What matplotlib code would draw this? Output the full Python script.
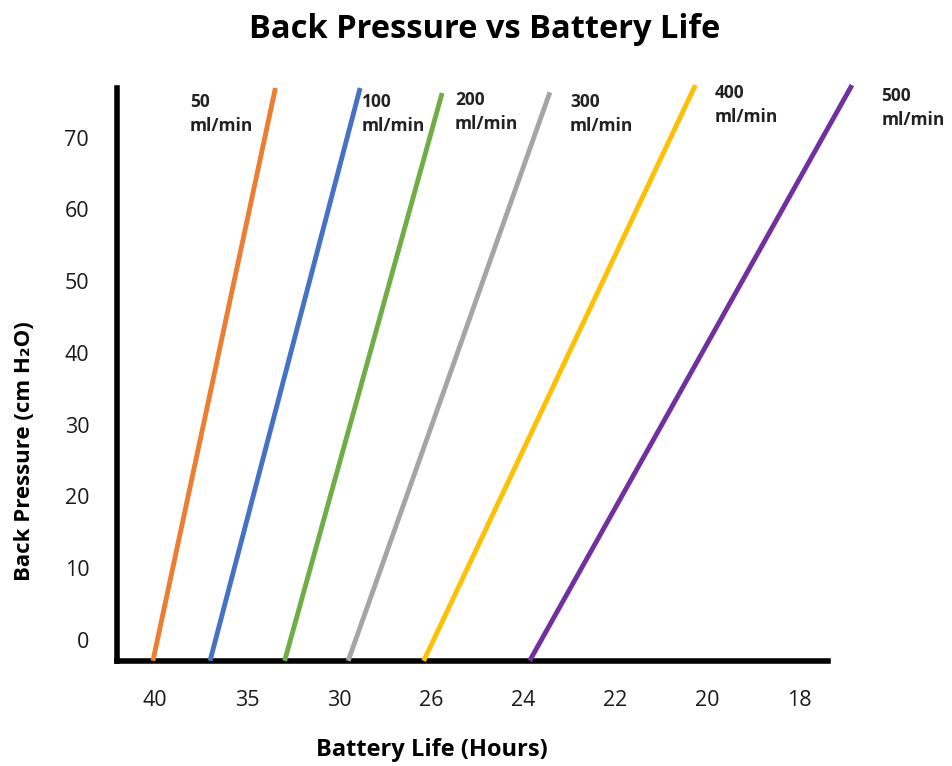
import matplotlib.pyplot as plt

# battery life ticks, placed at evenly spaced positions (0..7)
battery_ticks = ['40', '35', '30', '26', '24', '22', '20', '18']
pressure_ticks = [0, 10, 20, 30, 40, 50, 60, 70]

# flow rates and the line ends (x in tick positions, y in cm H2O)
flows = ['50\nml/min', '100\nml/min', '200\nml/min', '300\nml/min', '400\nml/min', '500\nml/min']
colors = ['#ED7D31', '#4472C4', '#70AD47', '#A5A5A5', '#FFC000', '#7030A0']
x_start = [-0.02, 0.60, 1.41, 2.10, 2.92, 4.07]
x_end = [1.31, 2.23, 3.12, 4.29, 5.87, 7.57]
y_start = [-2.9, -2.9, -2.9, -2.9, -2.9, -2.9]
y_end = [76.9, 76.9, 76.2, 76.3, 77.3, 77.3]
# label anchor (top-left) for each flow
label_x = [0.38, 2.25, 3.26, 4.51, 6.08, 7.89]
label_y = [76.2, 76.2, 76.5, 76.2, 77.5, 77.1]

plt.rcParams['font.family'] = ['Open Sans', 'DejaVu Sans']

W, H = 953, 766
fig = plt.figure(figsize=(W / 100, H / 100), dpi=100)
ax = fig.add_axes([117 / W, (H - 661) / H, (828 - 117) / W, (661 - 88) / H])

for i in range(len(flows)):
    ax.plot([x_start[i], x_end[i]], [y_start[i], y_end[i]], color=colors[i],
            linewidth=3.5, solid_capstyle='butt', clip_on=False, zorder=3)
    ax.text(label_x[i], label_y[i], flows[i], ha='left', va='top', fontsize=12.5,
            fontweight='bold', color='#222222', linespacing=1.45, zorder=4)

ax.set_xlim(-0.41, 7.31)
ax.set_ylim(-2.92, 76.9)
ax.set_xticks(range(len(battery_ticks)))
ax.set_xticklabels(battery_ticks, fontsize=15.5, color='#1a1a1a')
ax.set_yticks(pressure_ticks)
ax.set_yticklabels([str(v) for v in pressure_ticks], fontsize=15.5, color='#1a1a1a')
ax.tick_params(axis='x', length=0, pad=21)
ax.tick_params(axis='y', length=0, pad=20)

for s in ['top', 'right']:
    ax.spines[s].set_visible(False)
for s in ['left', 'bottom']:
    ax.spines[s].set_linewidth(4)
    ax.spines[s].set_color('black')
    ax.spines[s].set_capstyle('projecting')

ax.set_xlabel('Battery Life (Hours)', fontsize=17, fontweight='bold', va='center')
ax.xaxis.set_label_coords((432 - 117) / 711, (661 - 750) / 573)
ax.set_ylabel('Back Pressure (cm H\u2082O)', fontsize=16, fontweight='bold', va='center')
ax.yaxis.set_label_coords((25 - 117) / 711, (661 - 451) / 573)

fig.text(485 / W, 1 - 30 / H, 'Back Pressure vs Battery Life', ha='center', va='center',
         fontsize=23.5, fontweight='bold')

fig.savefig('out.png', dpi=100)
